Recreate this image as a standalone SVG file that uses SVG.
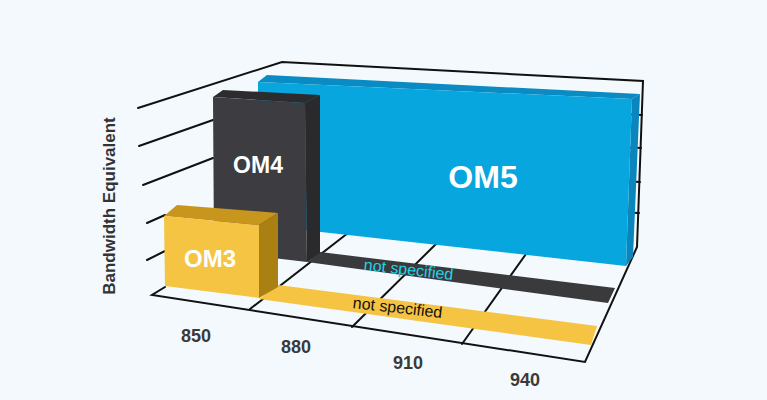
<svg xmlns="http://www.w3.org/2000/svg" width="767" height="400" viewBox="0 0 767 400">
  <style>
    .ax { stroke:#111; stroke-width:2; fill:none; stroke-linecap:round; }
    .tick { font-family:"Liberation Sans", Arial, sans-serif; font-weight:bold; font-size:18px; fill:#3a3a3c; text-anchor:middle; }
    .bar { font-family:"Liberation Sans", Arial, sans-serif; font-weight:bold; fill:#ffffff; text-anchor:middle; }
    .ns { font-family:"Liberation Sans", Arial, sans-serif; font-size:16px; text-anchor:middle; }
  </style>
  <rect width="767" height="400" fill="#f3f9fc"/>

  <g id="axes">
    <!-- left wall grid lines -->
    <path class="ax" d="M138 108 L282 62 L643 81 L637 247 L585 362 L152 295 L165 287"/>
    <path class="ax" d="M139 146 L213 120"/>
    <path class="ax" d="M143 185 L213 158"/>
    <path class="ax" d="M147 223 L165 215"/>
    <path class="ax" d="M147 260 L165 251"/>
    <!-- back wall grid lines (mostly hidden) -->
    <path class="ax" d="M282 96 L642 115"/>
    <path class="ax" d="M282 129 L641 148"/>
    <path class="ax" d="M282 162 L640 182"/>
    <path class="ax" d="M282 195 L639 213"/>
    <!-- floor dividers -->
    <path class="ax" d="M250 309 L348 233"/>
    <path class="ax" d="M352 327 L438 242"/>
    <path class="ax" d="M462 344 L526 254"/>
  </g>

  <g id="stripes">
    <polygon points="307,262 320,252 615,288 608,303" fill="#3a3a3d"/>
    <polygon points="259,299 278,285 597,326 591,345" fill="#f5c443"/>
    <text class="ns" x="408" y="275" fill="#22d2e6" transform="rotate(6.5 408 275)">not specified</text>
    <text class="ns" x="397" y="313" fill="#111111" transform="rotate(6.5 397 313)">not specified</text>
  </g>

  <g id="om5">
    <polygon points="258,82 267,75 640,94 632,99" fill="#0a8bc3"/>
    <polygon points="632,99 640,94 633,257 626,266" fill="#0a86bd"/>
    <polygon points="258,82 632,99 626,266 258,225" fill="#08a6de"/>
    <text class="bar" x="483" y="188" font-size="32">OM5</text>
  </g>

  <g id="om4">
    <polygon points="213,97 223,90 320,95 305,103" fill="#2c2c2f"/>
    <polygon points="305,103 320,95 320,253 307,262" fill="#2a2a2d"/>
    <polygon points="213,97 305,103 307,262 214,251" fill="#3d3d41"/>
    <text class="bar" x="258" y="173" font-size="23">OM4</text>
  </g>

  <g id="om3">
    <polygon points="164,216 177,205 278,213 259,225" fill="#c8961c"/>
    <polygon points="259,225 278,213 278,287 259,298" fill="#ab8013"/>
    <polygon points="164,216 259,225 259,298 165,286" fill="#f5c443"/>
    <text class="bar" x="210" y="267" font-size="24">OM3</text>
  </g>

  <g id="labels">
    <text class="tick" x="196" y="342">850</text>
    <text class="tick" x="296" y="353">880</text>
    <text class="tick" x="408" y="369">910</text>
    <text class="tick" x="525" y="386">940</text>
    <text x="0" y="0" transform="translate(115 206) rotate(-90)" font-family="Liberation Sans, Arial, sans-serif" font-weight="bold" font-size="17" fill="#333336" text-anchor="middle">Bandwidth Equivalent</text>
  </g>
</svg>
